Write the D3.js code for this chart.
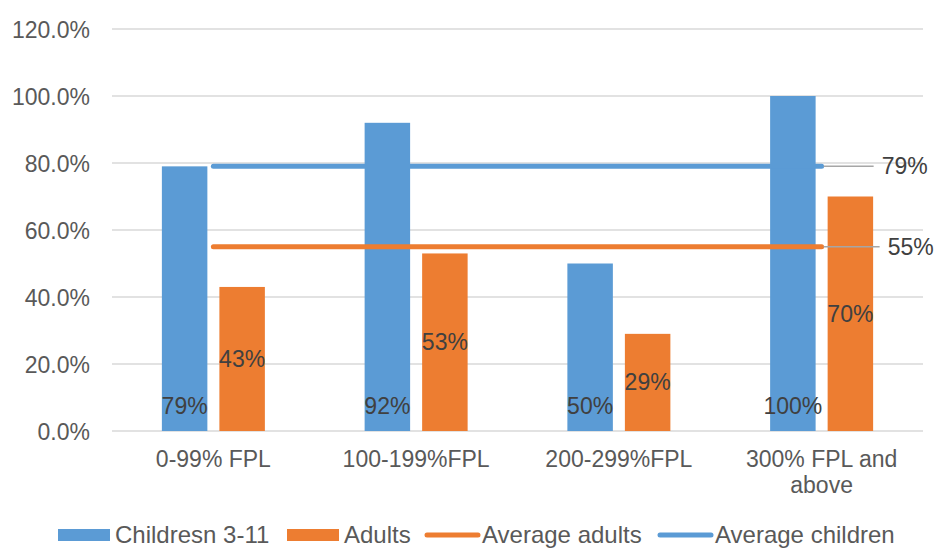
<!DOCTYPE html>
<html>
<head>
<meta charset="utf-8">
<script src="https://cdn.jsdelivr.net/npm/d3@7/dist/d3.min.js"></script>
<style>
  html, body { margin: 0; padding: 0; background: #fff; }
  svg { display: block; font-family: "Liberation Sans", Arial, sans-serif; }
</style>
</head>
<body>
<svg id="chart" width="936" height="548"></svg>
<script>
// Coverage by income band (share of FPL)
const categories = ["0-99% FPL", "100-199%FPL", "200-299%FPL", "300% FPL and above"];
const seriesNames = ["Childresn 3-11", "Adults"];
const children = [0.79, 0.92, 0.50, 1.00];
const adults = [0.43, 0.53, 0.29, 0.70];
const avgChildren = 0.79;
const avgAdults = 0.55;
const yTicks = [0, 0.2, 0.4, 0.6, 0.8, 1.0, 1.2];

const colors = { children: "#5B9BD5", adults: "#ED7D31" };
const textColor = "#595959";
const labelColor = "#404040";
const fontSize = 23;
const legendFont = 24;

const svg = d3.select("#chart");
const plot = { left: 112, right: 923, top: 29, bottom: 431 };

const y = d3.scaleLinear().domain([0, 1.2]).range([plot.bottom, plot.top]);
const x0 = d3.scaleBand().domain(categories).range([plot.left, plot.right]).padding(0);
const bw = x0.bandwidth();
const groupW = 103;
const x1 = d3.scaleBand().domain(seriesNames)
  .range([bw / 2 - groupW / 2, bw / 2 + groupW / 2])
  .paddingInner(0.209).paddingOuter(0);

// gridlines
svg.append("g").selectAll("line").data(yTicks).join("line")
  .attr("x1", plot.left).attr("x2", plot.right)
  .attr("y1", d => y(d)).attr("y2", d => y(d))
  .attr("stroke", "#d9d9d9").attr("stroke-width", 1.5);

// y axis labels
const yAxis = d3.axisLeft(y).tickValues(yTicks).tickFormat(d3.format(".1%")).tickSize(0).tickPadding(0);
const yg = svg.append("g").attr("transform", `translate(${plot.left - 22},0)`).call(yAxis);
yg.select(".domain").remove();
yg.selectAll("text").attr("fill", textColor).style("font-size", fontSize + "px")
  .style("font-family", "'Liberation Sans', Arial, sans-serif").attr("dy", "0.35em");

// bars
const rows = categories.map((c, i) => ({ cat: c, vals: [
  { key: seriesNames[0], v: children[i], color: colors.children, pos: "base" },
  { key: seriesNames[1], v: adults[i], color: colors.adults, pos: "center" }
]}));

const groups = svg.append("g").selectAll("g").data(rows).join("g")
  .attr("transform", d => `translate(${x0(d.cat)},0)`);

groups.selectAll("rect").data(d => d.vals).join("rect")
  .attr("x", d => x1(d.key)).attr("width", x1.bandwidth())
  .attr("y", d => y(d.v)).attr("height", d => y(0) - y(d.v))
  .attr("fill", d => d.color);

// average lines
const xc = c => x0(c) + bw / 2;
const first = categories[0], last = categories[categories.length - 1];
const avgLines = [
  { v: avgChildren, color: colors.children, leadEnd: 50 },
  { v: avgAdults, color: colors.adults, leadEnd: 56 }
];
avgLines.forEach(a => {
  svg.append("line")
    .attr("x1", xc(first)).attr("x2", xc(last))
    .attr("y1", y(a.v)).attr("y2", y(a.v))
    .attr("stroke", a.color).attr("stroke-width", 5).attr("stroke-linecap", "round");
});

// bar value labels
groups.selectAll("text.val").data(d => d.vals).join("text")
  .attr("class", "val")
  .attr("x", d => x1(d.key) + x1.bandwidth() / 2)
  .attr("y", d => d.pos === "base" ? y(0) - 17 : (y(0) + y(d.v)) / 2 + 8)
  .attr("text-anchor", "middle")
  .attr("fill", labelColor).style("font-size", fontSize + "px")
  .text(d => d3.format(".0%")(d.v));

// average line labels with leader lines
avgLines.forEach(a => {
  const xe = xc(last) + 2;
  svg.append("line")
    .attr("x1", xe).attr("x2", xe + a.leadEnd)
    .attr("y1", y(a.v)).attr("y2", y(a.v))
    .attr("stroke", "#a6a6a6").attr("stroke-width", 1.5);
  svg.append("text")
    .attr("x", xe + a.leadEnd + 8).attr("y", y(a.v) + 8)
    .attr("fill", labelColor).style("font-size", fontSize + "px")
    .text(d3.format(".0%")(a.v));
});

// category labels, wrapped to the band width
function wrapLines(text, maxW) {
  const words = text.split(" ");
  const lines = [];
  let cur = "";
  const probe = svg.append("text").style("font-size", fontSize + "px");
  words.forEach(w => {
    const test = cur ? cur + " " + w : w;
    probe.text(test);
    if (probe.node().getComputedTextLength() > maxW && cur) { lines.push(cur); cur = w; }
    else cur = test;
  });
  lines.push(cur);
  probe.remove();
  return lines;
}
categories.forEach(c => {
  const lines = wrapLines(c, 185);
  const t = svg.append("text").attr("text-anchor", "middle")
    .attr("fill", textColor).style("font-size", fontSize + "px");
  lines.forEach((ln, i) => {
    t.append("tspan").attr("x", xc(c)).attr("y", plot.bottom + 36 + i * 26).text(ln);
  });
});

// legend
const legendY = 535;
const legend = [
  { name: seriesNames[0], type: "rect", color: colors.children, x: 58 },
  { name: seriesNames[1], type: "rect", color: colors.adults, x: 287 },
  { name: "Average adults", type: "line", color: colors.adults, x: 425 },
  { name: "Average children", type: "line", color: colors.children, x: 658 }
];
legend.forEach(l => {
  if (l.type === "rect") {
    svg.append("rect").attr("x", l.x).attr("y", legendY - 6).attr("width", 52).attr("height", 12).attr("fill", l.color);
  } else {
    svg.append("line").attr("x1", l.x + 2).attr("x2", l.x + 53)
      .attr("y1", legendY).attr("y2", legendY)
      .attr("stroke", l.color).attr("stroke-width", 5).attr("stroke-linecap", "round");
  }
  svg.append("text").attr("x", l.x + 57).attr("y", legendY + 8)
    .attr("fill", textColor).style("font-size", legendFont + "px").text(l.name);
});
</script>
</body>
</html>
